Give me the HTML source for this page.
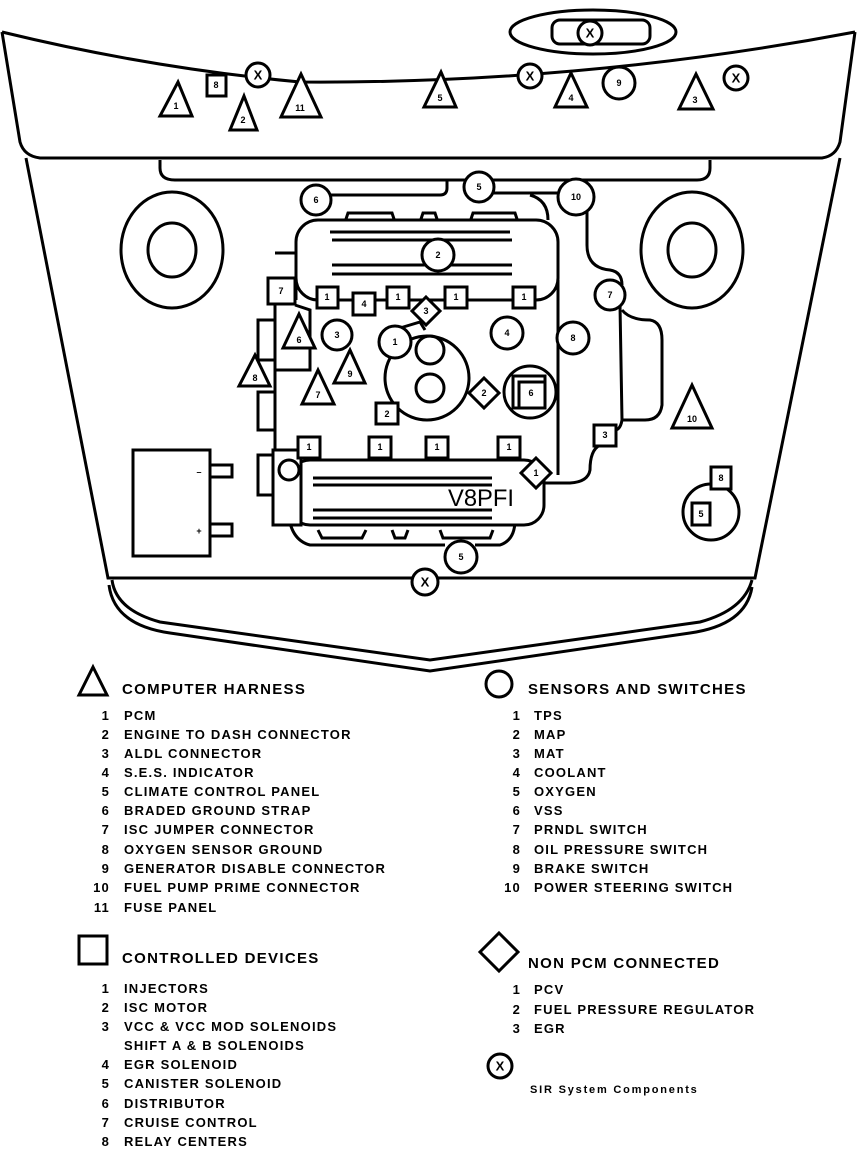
<!DOCTYPE html>
<html><head><meta charset="utf-8"><style>
html,body{margin:0;padding:0;background:#fff;}
svg{display:block;}
text{font-family:"Liberation Sans",sans-serif;font-weight:bold;fill:#000;}
.s{fill:none;stroke:#000;stroke-width:3;}
.t{fill:#fff;stroke:#000;stroke-width:3;}
.n{font-size:9px;text-anchor:middle;dominant-baseline:central;}
.h{font-size:15px;letter-spacing:1.3px;}
.i{font-size:13px;letter-spacing:1.2px;}
</style></head><body>
<svg width="864" height="1156" viewBox="0 0 864 1156" xmlns="http://www.w3.org/2000/svg">
<path class="s" d="M2,32 Q150,68 300,82 Q580,84 855,32"/>
<path class="s" d="M2,32 L20,142 Q24,156 40,158 L822,158 Q836,156 840,142 L855,32"/>
<ellipse class="s" cx="593" cy="32" rx="83" ry="22"/>
<rect class="s" x="552" y="20" width="98" height="24" rx="8"/>
<path class="s" d="M26,158 L108,578 L755,578 L840,158"/>
<path class="s" d="M112,580 Q116,610 160,622 L430,660 L700,622 Q744,610 752,580"/>
<path class="s" d="M109,585 Q114,625 170,633 L430,671 L690,633 Q746,625 752,587"/>
<path class="s" d="M160,160 L160,168 Q160,180 175,180 L697,180 Q710,180 710,168 L710,160"/>
<path class="s" d="M447,180 L447,188 Q447,195 440,195 L330,195"/>
<path class="s" d="M491,193 L562,193"/>
<path class="s" d="M530,195 Q548,200 548,220"/>
<path class="s" d="M587,210 L587,245 Q587,268 610,270 Q622,272 622,285"/>
<path class="s" d="M620,305 L622,420 Q620,432 612,430"/>
<path class="s" d="M622,310 Q630,320 650,320 Q662,322 662,340 L662,405 Q660,420 645,420 L622,420"/>
<path class="s" d="M600,445 Q590,450 590,470 Q588,482 570,483 L545,483"/>
<ellipse class="s" cx="172" cy="250" rx="51" ry="58"/>
<ellipse class="s" cx="172" cy="250" rx="24" ry="27"/>
<ellipse class="s" cx="692" cy="250" rx="51" ry="58"/>
<ellipse class="s" cx="692" cy="250" rx="24" ry="27"/>
<path class="s" d="M345,222 L348,213 L392,213 L395,222 M420,222 L423,213 L435,213 L438,222 M470,222 L473,213 L515,213 L518,222"/>
<rect class="t" x="296" y="220" width="262" height="80" rx="22"/>
<path class="s" d="M330,232 L510,232 M332,240 L512,240 M332,265 L512,265 M332,274 L512,274"/>
<path class="s" d="M275,450 L275,300 L296,300 M275,253 L296,253 L296,300 M558,280 L558,475"/>
<path class="s" d="M275,370 L310,370 L310,310 L295,305"/>
<path class="s" d="M258,320 L275,320 L275,360 L258,360 Z M258,392 L275,392 L275,430 L258,430 Z M258,455 L275,455 L275,495 L258,495 Z"/>
<circle class="t" cx="427" cy="378" r="42"/>
<circle class="s" cx="430" cy="350" r="14"/>
<circle class="s" cx="430" cy="388" r="14"/>
<path class="s" d="M400,328 L420,322 L425,330"/>
<path class="s" d="M288,510 Q290,540 310,545 L445,545 M475,545 L500,545 Q515,540 515,520"/>
<path class="s" d="M318,530 L322,538 L362,538 L366,530 M392,530 L395,538 L405,538 L408,530 M440,530 L443,538 L490,538 L493,530"/>
<rect class="t" x="290" y="460" width="254" height="65" rx="20"/>
<rect class="t" x="273" y="450" width="28" height="75"/>
<circle class="s" cx="289" cy="470" r="10"/>
<path class="s" d="M313,478 L492,478 M313,485 L492,485 M313,510 L492,510 M313,518 L492,518"/>
<text x="448" y="506" style="font-size:24px;font-weight:normal;" textLength="66" lengthAdjust="spacingAndGlyphs">V8PFI</text>
<rect class="s" x="133" y="450" width="77" height="106"/>
<path class="s" d="M210,465 L232,465 L232,477 L210,477 M210,524 L232,524 L232,536 L210,536"/>
<text x="199" y="472" class="n">–</text><text x="199" y="531" class="n">+</text>
<circle class="s" cx="711" cy="512" r="28"/>
<rect class="t" x="692" y="503" width="18" height="22"/><text x="701" y="514" class="n">5</text>
<rect class="t" x="711" y="467" width="20" height="22"/><text x="721" y="478" class="n">8</text>
<g>
<circle class="t" cx="258" cy="75" r="12"/><text x="258" y="75" class="n" style="font-size:13px">X</text>
<circle class="t" cx="530" cy="76" r="12"/><text x="530" y="76" class="n" style="font-size:13px">X</text>
<circle class="t" cx="736" cy="78" r="12"/><text x="736" y="78" class="n" style="font-size:13px">X</text>
<circle class="t" cx="590" cy="33" r="12"/><text x="590" y="33" class="n" style="font-size:13px">X</text>
<circle class="t" cx="425" cy="582" r="13"/><text x="425" y="582" class="n" style="font-size:13px">X</text>
<circle class="t" cx="619" cy="83" r="16"/><text x="619" y="83" class="n">9</text>
<circle class="t" cx="316" cy="200" r="15"/><text x="316" y="200" class="n">6</text>
<circle class="t" cx="479" cy="187" r="15"/><text x="479" y="187" class="n">5</text>
<circle class="t" cx="576" cy="197" r="18"/><text x="576" y="197" class="n">10</text>
<circle class="t" cx="610" cy="295" r="15"/><text x="610" y="295" class="n">7</text>
<circle class="t" cx="438" cy="255" r="16"/><text x="438" y="255" class="n">2</text>
<circle class="t" cx="337" cy="335" r="15"/><text x="337" y="335" class="n">3</text>
<circle class="t" cx="395" cy="342" r="16"/><text x="395" y="342" class="n">1</text>
<circle class="t" cx="507" cy="333" r="16"/><text x="507" y="333" class="n">4</text>
<circle class="t" cx="573" cy="338" r="16"/><text x="573" y="338" class="n">8</text>
<circle class="t" cx="530" cy="392" r="26"/>
<rect class="s" x="513" y="376" width="32" height="32"/>
<rect class="t" x="519" y="382" width="26" height="26"/><text x="531" y="393" class="n">6</text>
<circle class="t" cx="461" cy="557" r="16"/><text x="461" y="557" class="n">5</text>
</g>
<g>
<rect class="t" x="207" y="75" width="19" height="21"/><text x="216" y="85" class="n">8</text>
<rect class="t" x="268" y="278" width="27" height="26"/><text x="281" y="291" class="n">7</text>
<rect class="t" x="317" y="287" width="21" height="21"/><text x="327" y="297" class="n">1</text>
<rect class="t" x="353" y="293" width="22" height="22"/><text x="364" y="304" class="n">4</text>
<rect class="t" x="387" y="287" width="22" height="21"/><text x="398" y="297" class="n">1</text>
<rect class="t" x="445" y="287" width="22" height="21"/><text x="456" y="297" class="n">1</text>
<rect class="t" x="513" y="287" width="22" height="21"/><text x="524" y="297" class="n">1</text>
<rect class="t" x="376" y="403" width="22" height="21"/><text x="387" y="414" class="n">2</text>
<rect class="t" x="594" y="425" width="22" height="21"/><text x="605" y="435" class="n">3</text>
<rect class="t" x="298" y="437" width="22" height="21"/><text x="309" y="447" class="n">1</text>
<rect class="t" x="369" y="437" width="22" height="21"/><text x="380" y="447" class="n">1</text>
<rect class="t" x="426" y="437" width="22" height="21"/><text x="437" y="447" class="n">1</text>
<rect class="t" x="498" y="437" width="22" height="21"/><text x="509" y="447" class="n">1</text>
</g>
<g>
<path class="t" d="M426,297 L440,311 L426,325 L412,311 Z"/><text x="426" y="311" class="n">3</text>
<path class="t" d="M484,378 L499,393 L484,408 L469,393 Z"/><text x="484" y="393" class="n">2</text>
<path class="t" d="M536,458 L551,473 L536,488 L521,473 Z"/><text x="536" y="473" class="n">1</text>
</g>
<g>
<path class="t" d="M178,82 L192,116 L160,116 Z"/><text x="176" y="106" class="n">1</text>
<path class="t" d="M244,96 L257,130 L230,130 Z"/><text x="243" y="120" class="n">2</text>
<path class="t" d="M301,74 L321,117 L281,117 Z"/><text x="300" y="108" class="n">11</text>
<path class="t" d="M441,72 L456,107 L424,107 Z"/><text x="440" y="98" class="n">5</text>
<path class="t" d="M571,73 L587,107 L555,107 Z"/><text x="571" y="98" class="n">4</text>
<path class="t" d="M696,74 L713,109 L679,109 Z"/><text x="695" y="100" class="n">3</text>
<path class="t" d="M299,314 L315,348 L283,348 Z"/><text x="299" y="340" class="n">6</text>
<path class="t" d="M350,350 L365,383 L334,383 Z"/><text x="350" y="374" class="n">9</text>
<path class="t" d="M318,370 L334,404 L302,404 Z"/><text x="318" y="395" class="n">7</text>
<path class="t" d="M255,355 L270,386 L239,386 Z"/><text x="255" y="378" class="n">8</text>
<path class="t" d="M692,385 L712,428 L672,428 Z"/><text x="692" y="419" class="n">10</text>
</g>
<path class="s" d="M93,667 L107,695 L79,695 Z"/>
<rect class="s" x="79" y="936" width="28" height="28"/>
<circle class="s" cx="499" cy="684" r="13"/>
<path class="s" d="M499,933 L518,952 L499,971 L480,952 Z"/>
<circle class="s" cx="500" cy="1066" r="12"/><text x="500" y="1066" class="n" style="font-size:13px">X</text>
<g class="h">
<text x="122" y="694">COMPUTER HARNESS</text>
<text x="122" y="963">CONTROLLED DEVICES</text>
<text x="528" y="694">SENSORS AND SWITCHES</text>
<text x="528" y="968">NON PCM CONNECTED</text>
</g>
<g class="i">
<text x="110" y="720" text-anchor="end">1</text><text x="124" y="720">PCM</text>
<text x="110" y="739" text-anchor="end">2</text><text x="124" y="739">ENGINE TO DASH CONNECTOR</text>
<text x="110" y="758" text-anchor="end">3</text><text x="124" y="758">ALDL CONNECTOR</text>
<text x="110" y="777" text-anchor="end">4</text><text x="124" y="777">S.E.S. INDICATOR</text>
<text x="110" y="796" text-anchor="end">5</text><text x="124" y="796">CLIMATE CONTROL PANEL</text>
<text x="110" y="815" text-anchor="end">6</text><text x="124" y="815">BRADED GROUND STRAP</text>
<text x="110" y="834" text-anchor="end">7</text><text x="124" y="834">ISC JUMPER CONNECTOR</text>
<text x="110" y="854" text-anchor="end">8</text><text x="124" y="854">OXYGEN SENSOR GROUND</text>
<text x="110" y="873" text-anchor="end">9</text><text x="124" y="873">GENERATOR DISABLE CONNECTOR</text>
<text x="110" y="892" text-anchor="end">10</text><text x="124" y="892">FUEL PUMP PRIME CONNECTOR</text>
<text x="110" y="912" text-anchor="end">11</text><text x="124" y="912">FUSE PANEL</text>
<text x="110" y="993" text-anchor="end">1</text><text x="124" y="993">INJECTORS</text>
<text x="110" y="1012" text-anchor="end">2</text><text x="124" y="1012">ISC MOTOR</text>
<text x="110" y="1031" text-anchor="end">3</text><text x="124" y="1031">VCC &amp; VCC MOD SOLENOIDS</text>
<text x="124" y="1050">SHIFT A &amp; B SOLENOIDS</text>
<text x="110" y="1069" text-anchor="end">4</text><text x="124" y="1069">EGR SOLENOID</text>
<text x="110" y="1088" text-anchor="end">5</text><text x="124" y="1088">CANISTER SOLENOID</text>
<text x="110" y="1108" text-anchor="end">6</text><text x="124" y="1108">DISTRIBUTOR</text>
<text x="110" y="1127" text-anchor="end">7</text><text x="124" y="1127">CRUISE CONTROL</text>
<text x="110" y="1146" text-anchor="end">8</text><text x="124" y="1146">RELAY CENTERS</text>
<text x="521" y="720" text-anchor="end">1</text><text x="534" y="720">TPS</text>
<text x="521" y="739" text-anchor="end">2</text><text x="534" y="739">MAP</text>
<text x="521" y="758" text-anchor="end">3</text><text x="534" y="758">MAT</text>
<text x="521" y="777" text-anchor="end">4</text><text x="534" y="777">COOLANT</text>
<text x="521" y="796" text-anchor="end">5</text><text x="534" y="796">OXYGEN</text>
<text x="521" y="815" text-anchor="end">6</text><text x="534" y="815">VSS</text>
<text x="521" y="834" text-anchor="end">7</text><text x="534" y="834">PRNDL SWITCH</text>
<text x="521" y="854" text-anchor="end">8</text><text x="534" y="854">OIL PRESSURE SWITCH</text>
<text x="521" y="873" text-anchor="end">9</text><text x="534" y="873">BRAKE SWITCH</text>
<text x="521" y="892" text-anchor="end">10</text><text x="534" y="892">POWER STEERING SWITCH</text>
<text x="521" y="994" text-anchor="end">1</text><text x="534" y="994">PCV</text>
<text x="521" y="1014" text-anchor="end">2</text><text x="534" y="1014">FUEL PRESSURE REGULATOR</text>
<text x="521" y="1033" text-anchor="end">3</text><text x="534" y="1033">EGR</text>
</g>
<text x="530" y="1093" style="font-size:11px;letter-spacing:1.8px">SIR System Components</text>
</svg>
</body></html>
